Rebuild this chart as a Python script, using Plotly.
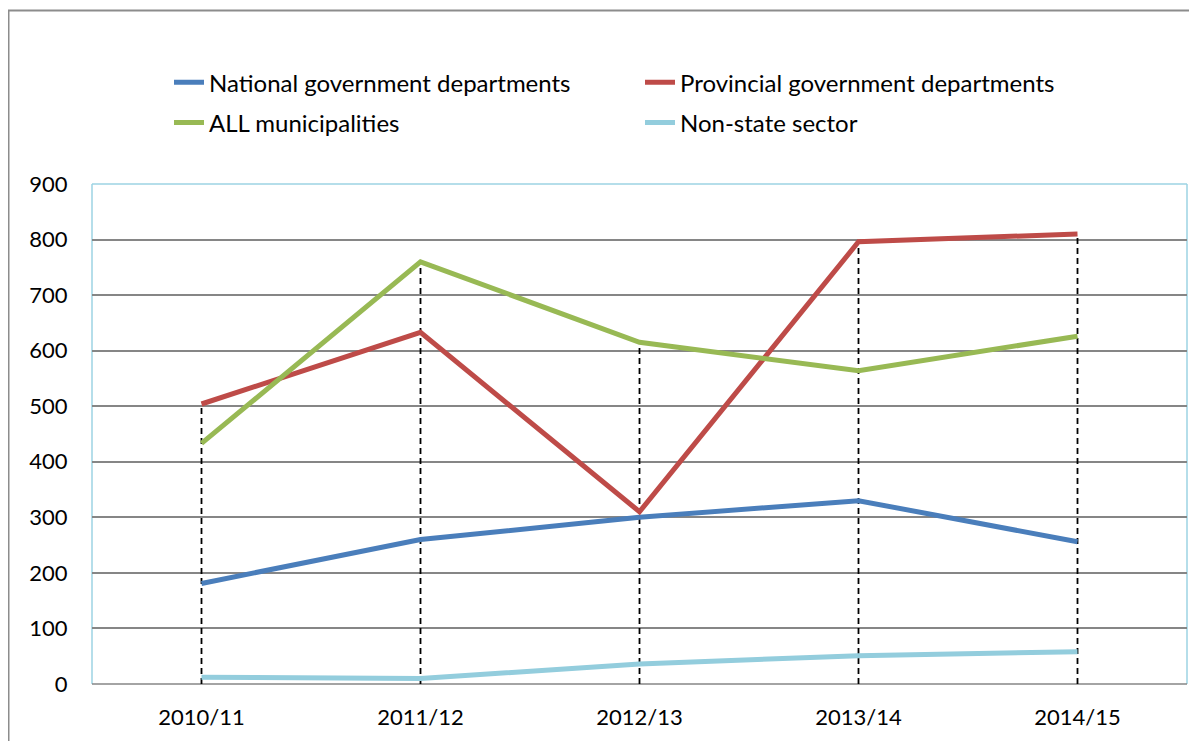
import plotly.graph_objects as go

categories = ["2010/11", "2011/12", "2012/13", "2013/14", "2014/15"]
national = [181, 260, 300, 330, 256]
provincial = [504, 633, 310, 796, 810]
municipalities = [433, 760, 615, 564, 626]
non_state = [12, 10, 36, 51, 58]

series = [
    ("National government departments", national, "#4A7EBB", "legend"),
    ("Provincial government departments", provincial, "#BE4B48", "legend2"),
    ("ALL municipalities", municipalities, "#98B954", "legend3"),
    ("Non-state sector", non_state, "#93CDDD", "legend4"),
]

FONT = "Lato"
fig = go.Figure()

# drop lines (from highest series value at each category down to the axis)
drop_x, drop_y = [], []
for i, c in enumerate(categories):
    top = max(national[i], provincial[i], municipalities[i], non_state[i])
    drop_x += [c, c, None]
    drop_y += [0, top, None]
fig.add_trace(go.Scatter(x=drop_x, y=drop_y, mode="lines",
                         line=dict(color="black", width=1.8, dash="6px,4px"),
                         showlegend=False, hoverinfo="skip"))

for name, vals, color, lg in series:
    fig.add_trace(go.Scatter(x=categories, y=vals, mode="lines", name=name,
                             line=dict(color=color, width=5), legend=lg,
                             hoverinfo="x+y+name"))

# figure is placed at (8, 8) in the page (default body margin)
W, H = 1181, 733
L, R, T, B = 84, 2, 176, 57
pw = W - L - R
ph = H - T - B


def px(x):
    return (x - L) / pw


def py(y):
    return (H - B - y) / ph


frame = "#9DD3E3"
shapes = [
    dict(type="line", xref="paper", yref="paper", x0=0, x1=0, y0=0, y1=1,
         line=dict(color=frame, width=1.5), layer="between"),
    dict(type="line", xref="paper", yref="paper", x0=0, x1=1, y0=1, y1=1,
         line=dict(color=frame, width=1.5), layer="between"),
    dict(type="line", xref="paper", yref="paper", x0=1, x1=1, y0=0, y1=1,
         line=dict(color=frame, width=1.5), layer="between"),
    dict(type="line", xref="paper", yref="paper", x0=0, x1=1, y0=0, y1=0,
         line=dict(color="#868686", width=1.5), layer="between"),
    # outer chart border (right and bottom edges fall outside the picture)
    dict(type="rect", xref="paper", yref="paper",
         x0=px(0.5), x1=px(1250), y0=py(2.5), y1=py(800),
         line=dict(color="#8C8C8C", width=2), layer="below"),
]


def leg(xpix, ypix):
    return dict(orientation="h", x=px(xpix), xanchor="left", y=py(ypix), yanchor="middle",
                font=dict(family=FONT, size=24, color="black"),
                bgcolor="rgba(0,0,0,0)", borderwidth=0)


fig.update_layout(
    width=W, height=H,
    margin=dict(l=L, r=R, t=T, b=B, autoexpand=False),
    paper_bgcolor="white", plot_bgcolor="white",
    font=dict(family=FONT, size=22, color="black"),
    shapes=shapes,
    showlegend=True,
    legend=leg(161, 74.7),
    legend2=leg(632, 74.7),
    legend3=leg(161, 115),
    legend4=leg(632, 115),
    xaxis=dict(type="category", categoryorder="array", categoryarray=categories,
               range=[-0.5, 4.5], showgrid=False, zeroline=False, showline=False,
               ticks="outside", ticklen=14, tickcolor="rgba(0,0,0,0)",
               tickfont=dict(family=FONT, size=22, color="black"), automargin=False),
    yaxis=dict(range=[0, 900], dtick=100, tick0=0, showgrid=True,
               gridcolor="#868686", gridwidth=1.5, zeroline=False, showline=False,
               ticks="outside", ticklen=19, tickcolor="rgba(0,0,0,0)",
               tickfont=dict(family=FONT, size=22, color="black"), automargin=False),
)

fig.write_html("out.html")
